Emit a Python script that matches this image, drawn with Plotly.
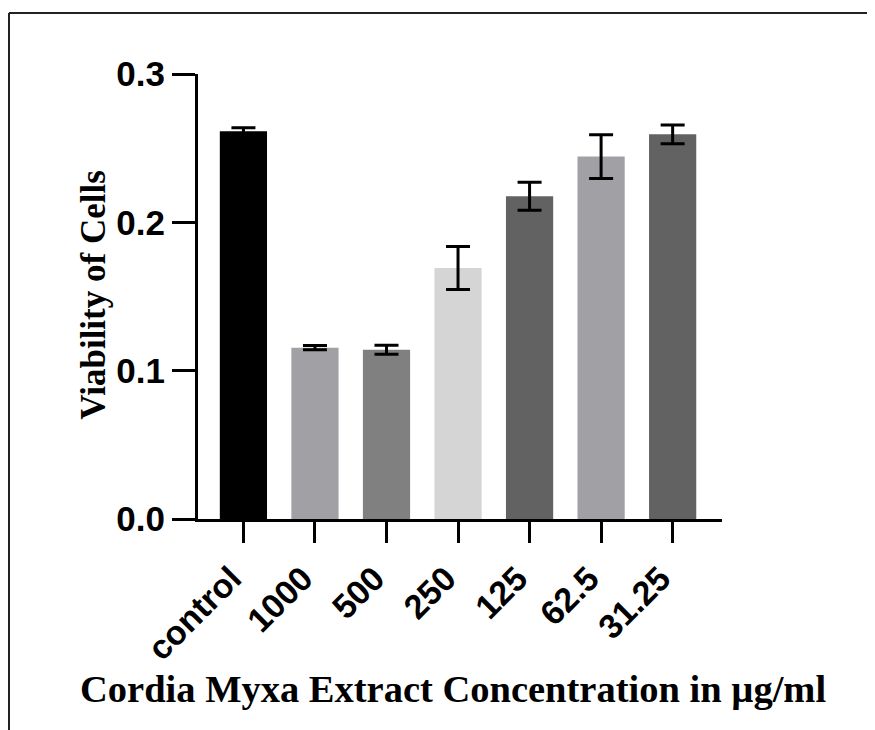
import plotly.graph_objects as go

categories = ["control", "1000", "500", "250", "125", "62.5", "31.25"]
viability = [0.2614, 0.1155, 0.1141, 0.1692, 0.2176, 0.2443, 0.2593]
sd = [0.0023, 0.0014, 0.0030, 0.0145, 0.0095, 0.0148, 0.0064]
bar_colors = ["#000000", "#a1a0a5", "#808080", "#d5d5d5", "#626262", "#a1a0a5", "#626262"]
y_ticks = [0.0, 0.1, 0.2, 0.3]
y_tick_labels = ["0.0", "0.1", "0.2", "0.3"]

OFF = 8  # page body margin
W, H = 875 - OFF, 730 - OFF
# plot area in screen pixels: x 198..722, y 74..519.5
L = 198 - OFF
T = 74 - OFF
R = W - (722 - OFF)
B = H - (519.5 - OFF)
pw, ph = W - L - R, H - T - B

def sx(px):
    return (px - OFF - L) / pw

def sy(py):
    return (H - B - (py - OFF)) / ph

fig = go.Figure()
fig.add_trace(go.Bar(
    x=categories, y=viability,
    marker=dict(color=bar_colors, line=dict(width=0)),
    width=0.66,
    error_y=dict(type="data", array=sd, visible=True, color="#000000", thickness=3, width=12),
))

fig.update_layout(
    width=W, height=H,
    margin=dict(l=L, r=R, t=T, b=B, pad=0),
    plot_bgcolor="white", paper_bgcolor="white",
    showlegend=False,
    font=dict(family="Liberation Sans", color="black"),
    xaxis=dict(
        range=[-0.635, 6.69], showgrid=False, zeroline=False,
        showline=True, linecolor="black", linewidth=3,
        ticks="outside", ticklen=21, tickwidth=3, tickcolor="black",
        tickangle=-45, ticklabelshift=-12, ticklabelstandoff=2,
        tickfont=dict(family="Liberation Sans", size=34, color="black", weight="bold"),
    ),
    yaxis=dict(
        range=[0, 0.3], showgrid=False, zeroline=False,
        showline=True, linecolor="black", linewidth=3,
        ticks="outside", ticklen=23, tickwidth=3, tickcolor="black",
        tickvals=y_ticks, ticktext=y_tick_labels,
        tickfont=dict(family="Liberation Sans", size=35, color="black", weight="bold"),
    ),
    annotations=[
        dict(text="<b>Viability of Cells</b>", x=sx(94), y=sy(295),
             xref="paper", yref="paper", xanchor="center", yanchor="middle",
             showarrow=False, textangle=-90,
             font=dict(family="Liberation Serif", size=35, color="black")),
        dict(text="<b>Cordia Myxa Extract Concentration in µg/ml</b>", x=sx(453), y=sy(690),
             xref="paper", yref="paper", xanchor="center", yanchor="middle",
             showarrow=False,
             font=dict(family="Liberation Serif", size=38.5, color="black")),
    ],
    shapes=[
        dict(type="line", xref="paper", yref="paper",
             x0=sx(9), x1=sx(890), y0=sy(13), y1=sy(13),
             line=dict(color="#222222", width=2)),
        dict(type="line", xref="paper", yref="paper",
             x0=sx(9), x1=sx(9), y0=sy(13), y1=sy(745),
             line=dict(color="#222222", width=2)),
    ],
)

fig.write_html("out.html")
